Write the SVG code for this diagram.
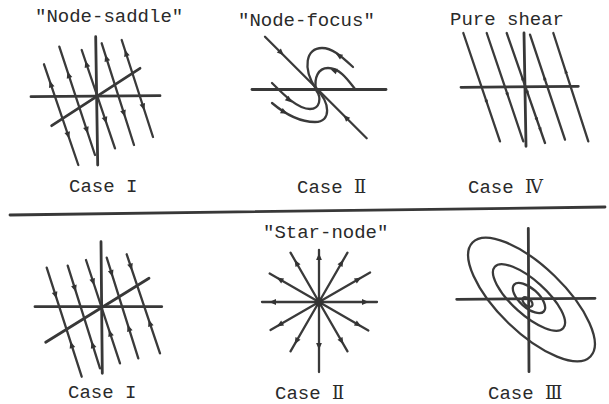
<svg xmlns="http://www.w3.org/2000/svg" xmlns:xlink="http://www.w3.org/1999/xlink" width="609" height="404" viewBox="0 0 609 404">
<style>
.ax{stroke:#383838;stroke-width:2.8;fill:none;stroke-linecap:round}
.ln{stroke:#3a3a3a;stroke-width:2.3;fill:none;stroke-linecap:round}
.cv{stroke:#3a3a3a;stroke-width:2.3;fill:none;stroke-linecap:round}
.el{stroke:#3a3a3a;stroke-width:2.3;fill:none}
.ah{fill:#333}
.t{font-family:"Liberation Mono","DejaVu Sans Mono","Noto Sans CJK JP",monospace;font-size:19px;fill:#2a2a2a}
.rn{font-family:"DejaVu Serif","DejaVu Sans","Liberation Serif","Noto Sans CJK JP",serif;font-size:18px}
</style>
<defs>
<path id="a" class="ah" d="M3.8,0 L-3,-2.9 L-3,2.9 Z"/>
<path id="s" class="ah" d="M2.5,0 L-2,-1.8 L-2,1.8 Z"/>
</defs>
<rect width="609" height="404" fill="#ffffff"/>

<!-- Top left: Node-saddle -->
<g id="node-saddle">
<text class="t" x="35" y="21.5">"Node-saddle"</text>
<line class="ax" x1="31" y1="96.7" x2="160" y2="95.7"/>
<line class="ax" x1="95.7" y1="36.7" x2="97.7" y2="165"/>
<line class="ax" x1="51.7" y1="125.7" x2="140" y2="68.3"/>
<line class="ln" x1="44" y1="64.3" x2="78.3" y2="165"/>
<line class="ln" x1="59.3" y1="46.7" x2="95" y2="155"/>
<line class="ln" x1="81.7" y1="50" x2="115" y2="148.3"/>
<line class="ln" x1="101.7" y1="43.3" x2="134" y2="145"/>
<line class="ln" x1="121.7" y1="40" x2="153" y2="137"/>
<use href="#a" transform="translate(50.8,84.3) rotate(-108)"/>
<use href="#a" transform="translate(68.1,135) rotate(72)"/>
<use href="#a" transform="translate(68.6,75) rotate(-108)"/>
<use href="#a" transform="translate(86.8,130) rotate(72)"/>
<use href="#a" transform="translate(86.5,64.3) rotate(-108)"/>
<use href="#a" transform="translate(105.4,120) rotate(72)"/>
<use href="#a" transform="translate(106.4,58.3) rotate(-108)"/>
<use href="#a" transform="translate(123.9,113.3) rotate(72)"/>
<use href="#a" transform="translate(126,53.3) rotate(-108)"/>
<use href="#a" transform="translate(143.2,106.7) rotate(72)"/>
<text class="t" x="69" y="192">Case I</text>
</g>

<!-- Top middle: Node-focus -->
<g id="node-focus">
<text class="t" x="238" y="25.5">"Node-focus"</text>
<line class="ax" x1="252" y1="89.5" x2="386" y2="89.5"/>
<line class="ln" x1="265" y1="36.7" x2="366.7" y2="138.3"/>
<path class="cv" d="M353,67 C340,55 332,48 322,48 C306,48 302,68 316,89"/>
<path class="cv" d="M355,89 C348,80 340,68 328,68 C318,68 314,78 316,89"/>
<path class="cv" d="M272,83 C285,96 298,109 310,109 C320,109 322,98 316,90"/>
<path class="cv" d="M272,103 C285,114 300,122 315,122 C332,122 330,102 316,89"/>
<use href="#a" transform="translate(281,52.6) rotate(45)"/>
<use href="#a" transform="translate(346,117.7) rotate(-135)"/>
<use href="#a" transform="translate(339,55.5) rotate(-148)"/>
<use href="#a" transform="translate(334,70.5) rotate(-160)"/>
<use href="#a" transform="translate(289,100) rotate(40)"/>
<use href="#a" transform="translate(284,112) rotate(28)"/>
<text class="t" x="297" y="193">Case <tspan class="rn">Ⅱ</tspan></text>
</g>

<!-- Top right: Pure shear -->
<g id="pure-shear">
<text class="t" x="450" y="24.5">Pure shear</text>
<line class="ax" x1="461" y1="87.3" x2="578.3" y2="86.3"/>
<line class="ax" x1="524" y1="33" x2="526" y2="146.3"/>
<line class="ln" x1="463.3" y1="33" x2="500" y2="141.3"/>
<line class="ln" x1="486.7" y1="33" x2="523.3" y2="141.3"/>
<line class="ln" x1="506.7" y1="33" x2="545" y2="143"/>
<line class="ln" x1="530" y1="34.7" x2="565" y2="139.7"/>
<line class="ln" x1="553.3" y1="33" x2="588.3" y2="141.3"/>
<use href="#s" transform="translate(486.7,102) rotate(71)"/>
<use href="#s" transform="translate(507.6,94.7) rotate(71)"/>
<use href="#s" transform="translate(522.4,78) rotate(-109)"/>
<use href="#s" transform="translate(527.6,93) rotate(71)"/>
<use href="#s" transform="translate(536.9,119.7) rotate(71)"/>
<use href="#s" transform="translate(540.4,129.7) rotate(71)"/>
<use href="#s" transform="translate(544.4,78) rotate(-109)"/>
<use href="#s" transform="translate(565.7,71.3) rotate(-109)"/>
<text class="t" x="468" y="193">Case <tspan class="rn">Ⅳ</tspan></text>
</g>

<!-- Separator -->
<line class="ax" x1="10" y1="215" x2="605" y2="207"/>

<!-- Bottom left: Case I -->
<g id="case-i-bottom">
<line class="ax" x1="35" y1="306.7" x2="161.7" y2="306.7"/>
<line class="ax" x1="101" y1="241.7" x2="102.3" y2="373.3"/>
<line class="ax" x1="45.7" y1="342.3" x2="149" y2="278.3"/>
<line class="ln" x1="46.7" y1="267.7" x2="81.7" y2="376.7"/>
<line class="ln" x1="67.7" y1="265.7" x2="100" y2="368.3"/>
<line class="ln" x1="86" y1="260" x2="120" y2="363.3"/>
<line class="ln" x1="106.7" y1="257.7" x2="138.3" y2="358.3"/>
<line class="ln" x1="126.7" y1="254.3" x2="160" y2="353.3"/>
<use href="#a" transform="translate(55.5,295) rotate(72)"/>
<use href="#a" transform="translate(71.5,345) rotate(-108)"/>
<use href="#a" transform="translate(74.8,288.3) rotate(72)"/>
<use href="#a" transform="translate(92.7,345) rotate(-108)"/>
<use href="#a" transform="translate(93.1,281.7) rotate(72)"/>
<use href="#a" transform="translate(110.1,333.3) rotate(-108)"/>
<use href="#a" transform="translate(111.6,273.3) rotate(72)"/>
<use href="#a" transform="translate(128.9,328.3) rotate(-108)"/>
<use href="#a" transform="translate(130.9,266.7) rotate(72)"/>
<use href="#a" transform="translate(149.9,323.3) rotate(-108)"/>
<text class="t" x="68" y="398">Case I</text>
</g>

<!-- Bottom middle: Star-node -->
<g id="star-node">
<text class="t" x="263" y="237.5">"Star-node"</text>
<g transform="translate(319,302)">
<g class="ln">
<line x1="0" y1="0" x2="58" y2="0"/>
<line x1="0" y1="0" x2="57" y2="0" transform="rotate(30)"/>
<line x1="0" y1="0" x2="57" y2="0" transform="rotate(60)"/>
<line x1="0" y1="0" x2="70" y2="0" transform="rotate(90)"/>
<line x1="0" y1="0" x2="57" y2="0" transform="rotate(120)"/>
<line x1="0" y1="0" x2="56" y2="0" transform="rotate(150)"/>
<line x1="0" y1="0" x2="57" y2="0" transform="rotate(180)"/>
<line x1="0" y1="0" x2="57" y2="0" transform="rotate(210)"/>
<line x1="0" y1="0" x2="57" y2="0" transform="rotate(240)"/>
<line x1="0" y1="0" x2="52" y2="0" transform="rotate(270)"/>
<line x1="0" y1="0" x2="57" y2="0" transform="rotate(300)"/>
<line x1="0" y1="0" x2="59" y2="0" transform="rotate(330)"/>
</g>
<use href="#a" transform="rotate(0) translate(46,0)"/>
<use href="#a" transform="rotate(30) translate(45,0)"/>
<use href="#a" transform="rotate(60) translate(45,0)"/>
<use href="#a" transform="rotate(90) translate(44,0)"/>
<use href="#a" transform="rotate(120) translate(45,0)"/>
<use href="#a" transform="rotate(150) translate(45,0)"/>
<use href="#a" transform="rotate(180) translate(46,0)"/>
<use href="#a" transform="rotate(210) translate(45,0)"/>
<use href="#a" transform="rotate(240) translate(45,0)"/>
<use href="#a" transform="rotate(270) translate(45,0)"/>
<use href="#a" transform="rotate(300) translate(45,0)"/>
<use href="#a" transform="rotate(330) translate(45,0)"/>
<circle r="4.5" fill="#333"/>
</g>
<text class="t" x="275" y="399">Case <tspan class="rn">Ⅱ</tspan></text>
</g>

<!-- Bottom right: ellipses -->
<g id="case-iii">
<line class="ax" x1="456.7" y1="299.3" x2="595" y2="298.3"/>
<line class="ax" x1="528.3" y1="228.3" x2="529" y2="371.7"/>
<ellipse class="el" cx="531.5" cy="299.5" rx="82" ry="33" transform="rotate(44 531.5 299.5)"/>
<ellipse class="el" cx="529" cy="297.5" rx="46" ry="17" transform="rotate(42 529 297.5)"/>
<ellipse class="el" cx="529" cy="298" rx="20" ry="9.5" transform="rotate(42 529 298)"/>
<ellipse class="el" cx="527.5" cy="302" rx="6" ry="3.5" transform="rotate(42 527.5 302)"/>
<text class="t" x="488" y="399">Case <tspan class="rn">Ⅲ</tspan></text>
</g>
</svg>
